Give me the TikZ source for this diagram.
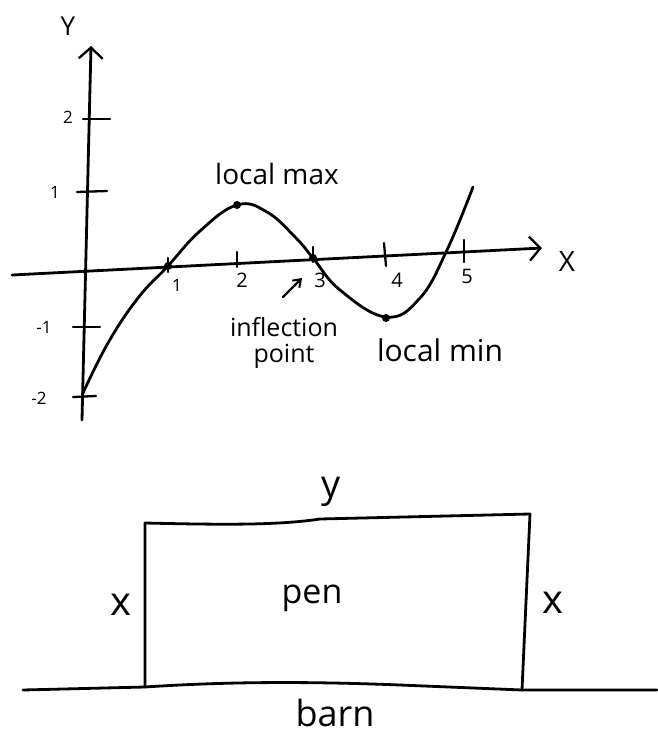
\documentclass[tikz,border=0pt]{standalone}
\usepackage{fontspec}
\setmainfont{Open Sans}
\usetikzlibrary{arrows.meta}
\begin{document}
\begin{tikzpicture}[x=1pt,y=-1pt,
  ink/.style={line width=2.8pt,line cap=round,line join=round},
  thinink/.style={line width=2.3pt,line cap=round},
  fs/.style={font=\fontsize{#1}{#1}\selectfont},
  lbl/.style={inner sep=0pt},
  dot/.style={circle,fill=black,inner sep=0pt,minimum size=8pt},
  opentip/.style={-{Straight Barb[length=11pt,width=24pt,line width=2.3pt]}}]
\useasboundingbox (0,0) rectangle (657,734);
% ---------- axes ----------
\coordinate (ybot) at (82,420);
\coordinate (ytop) at (91,46);
\coordinate (xleft) at (12,275);
\coordinate (xright) at (542,248);
\draw[ink,opentip] (ybot) -- (ytop);
\draw[ink,opentip] (xleft) -- (xright);
\node[lbl,fs=26] (ylab) at (68,26) {Y};
\node[lbl,fs=28] (xlab) at (567,262) {X};
% y ticks
\coordinate (t2a) at (83,119); \coordinate (t2b) at (110,119);
\coordinate (t1a) at (77,192); \coordinate (t1b) at (107,191);
\coordinate (tm1a) at (73,327); \coordinate (tm1b) at (100,327);
\coordinate (tm2a) at (73,397); \coordinate (tm2b) at (96,396);
\draw[thinink] (t2a) -- (t2b);
\draw[thinink] (t1a) -- (t1b);
\draw[thinink] (tm1a) -- (tm1b);
\draw[thinink] (tm2a) -- (tm2b);
\node[lbl,fs=17] (ly2) at (68,117) {2};
\node[lbl,fs=17] (ly1) at (55,192) {1};
\node[lbl,fs=17] (lym1) at (44,327) {-1};
\node[lbl,fs=17] (lym2) at (39,398) {-2};
% x ticks
\coordinate (x1a) at (168,258); \coordinate (x1b) at (168,272);
\coordinate (x2a) at (237,252); \coordinate (x2b) at (237,267);
\coordinate (x3a) at (313,247); \coordinate (x3b) at (313,262);
\coordinate (x4a) at (384,243); \coordinate (x4b) at (386,266);
\coordinate (x5a) at (464,240); \coordinate (x5b) at (464,262);
\draw[thinink] (x1a) -- (x1b);
\draw[thinink] (x2a) -- (x2b);
\draw[thinink] (x3a) -- (x3b);
\draw[thinink] (x4a) -- (x4b);
\draw[thinink] (x5a) -- (x5b);
\node[lbl,fs=17] (lx1) at (177,285) {1};
\node[lbl,fs=20] (lx2) at (242,280) {2};
\node[lbl,fs=20] (lx3) at (320,280) {3};
\node[lbl,fs=20] (lx4) at (397,280) {4};
\node[lbl,fs=20] (lx5) at (467,276) {5};
% ---------- curve ----------
\draw[ink] plot[smooth,tension=0.7] coordinates {
  (83,393) (108,343) (138,298) (167,267) (200,231) (237,205)
  (267,212) (296,238) (313,258) (340,290) (386,317)
  (420,298) (447,250) (473,187)};
\node[dot] (zero) at (168,266) {};
\node[dot] (max) at (237,205) {};
\node[dot] (infl) at (313,258) {};
\node[dot] (min) at (386,318) {};
\node[lbl,fs=28] (lmax) at (277,174) {local max};
\node[lbl,fs=25,align=center] (linfl) at (284,343) {inflection\\[1pt]point};
\node[lbl,fs=30] (lmin) at (440,350) {local min};
\coordinate (arra) at (283,297);
\coordinate (arrb) at (302,278);
\draw[thinink,-{Straight Barb[length=7pt,width=10pt,line width=2pt]}] (arra) -- (arrb);
% ---------- pen ----------
\coordinate (ptl) at (145,523);
\coordinate (ptr) at (530,514);
\coordinate (pbr) at (522,690);
\coordinate (pbl) at (145,687);
\draw[ink] (pbl) -- (ptl) .. controls (230,525) and (280,525) .. (320,519) -- (ptr) -- (pbr);
\coordinate (bl) at (23,690);
\coordinate (br) at (657,690);
\draw[ink] (bl) -- (pbl) .. controls (220,682) and (300,681) .. (400,685) -- (pbr) -- (br);
\node[lbl,fs=38] (py) at (331,492) {y};
\node[lbl,fs=34] (pen) at (312,598) {pen};
\node[lbl,fs=40] (pxl) at (121,605) {x};
\node[lbl,fs=40] (pxr) at (553,603) {x};
\node[lbl,fs=36] (barn) at (335,713) {barn};
\end{tikzpicture}
\end{document}
